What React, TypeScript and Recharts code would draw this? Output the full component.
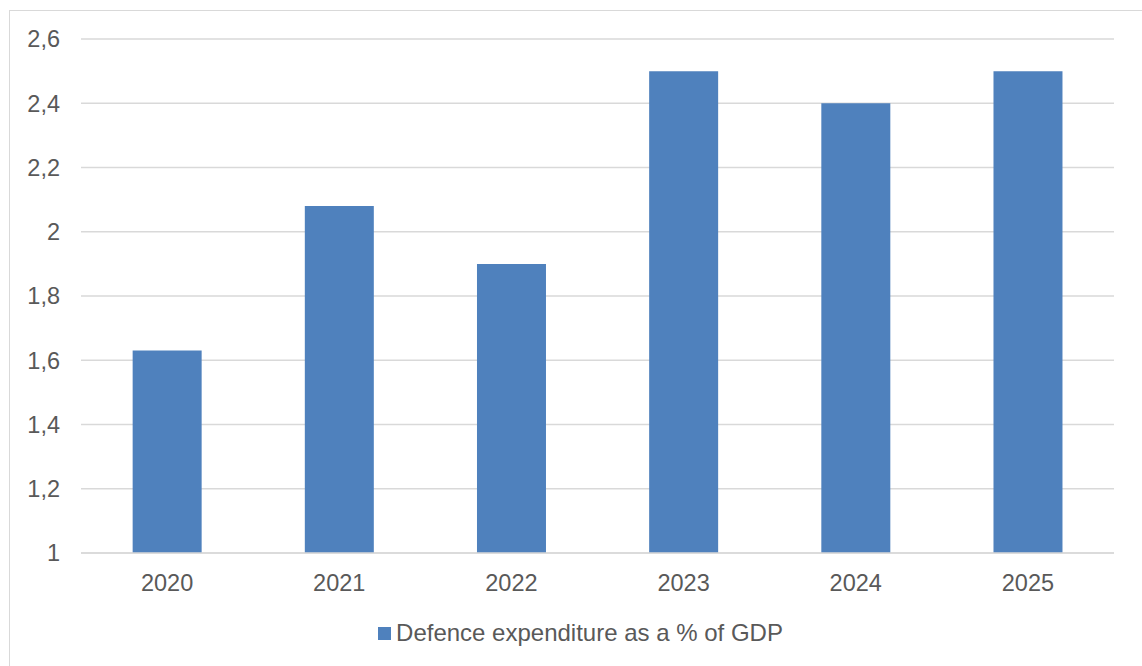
import React from 'react';
import { BarChart, Bar, XAxis, YAxis, CartesianGrid, Legend } from 'recharts';

const years = ['2020', '2021', '2022', '2023', '2024', '2025'];
const defenceShare = [1.63, 2.08, 1.9, 2.5, 2.4, 2.5];
const yTicks = [1, 1.2, 1.4, 1.6, 1.8, 2, 2.2, 2.4, 2.6];
const seriesName = 'Defence expenditure as a % of GDP';

const data = years.map((y, i) => ({ year: y, value: defenceShare[i] }));

const FONT = '"Liberation Sans", Arial, sans-serif';
const TEXT = '#595959';
const GRID = '#D9D9D9';
const BAR = '#4F81BD';

const fmt = (v: number) => String(Math.round(v * 10) / 10).replace('.', ',');

const LegendContent = () => (
  <div
    style={{
      width: 1142,
      display: 'flex',
      justifyContent: 'center',
      paddingLeft: 19,
      boxSizing: 'border-box',
      marginTop: 15,
    }}
  >
    <div style={{ display: 'flex', alignItems: 'center', fontFamily: FONT, fontSize: 24, color: TEXT, lineHeight: 1 }}>
      <span style={{ display: 'inline-block', width: 13, height: 13, background: BAR, marginRight: 5 }} />
      <span>{seriesName}</span>
    </div>
  </div>
);

export default function App() {
  return (
    <div style={{ position: 'absolute', left: 0, top: 0, width: 1142, height: 666, overflow: 'hidden', background: '#fff' }}>
      <div
        style={{
          position: 'absolute',
          left: 9,
          top: 10,
          width: 1160,
          height: 700,
          border: `1.5px solid ${GRID}`,
        }}
      />
      <div style={{ position: 'absolute', left: 0, top: 0 }}>
        <BarChart
          width={1142}
          height={666}
          data={data}
          margin={{ top: 39, right: 28, left: 21, bottom: 0 }}
          barCategoryGap="30%"
        >
          <CartesianGrid vertical={false} stroke={GRID} strokeWidth={1.5} />
          <XAxis
            dataKey="year"
            height={53}
            tickLine={false}
            axisLine={{ stroke: GRID, strokeWidth: 1.5 }}
            tickSize={0}
            tickMargin={21}
            tick={{ fill: TEXT, fontSize: 23.5, fontFamily: FONT }}
          />
          <YAxis
            width={60}
            domain={[1, 2.6]}
            ticks={yTicks}
            tickFormatter={fmt}
            axisLine={false}
            tickLine={false}
            tickSize={0}
            tickMargin={21}
            tick={{ fill: TEXT, fontSize: 23.5, fontFamily: FONT }}
          />
          <Legend verticalAlign="bottom" height={60} wrapperStyle={{ left: 0, width: 1142 }} content={() => <LegendContent />} />
          <Bar dataKey="value" name={seriesName} fill={BAR} isAnimationActive={false} />
        </BarChart>
      </div>
    </div>
  );
}
